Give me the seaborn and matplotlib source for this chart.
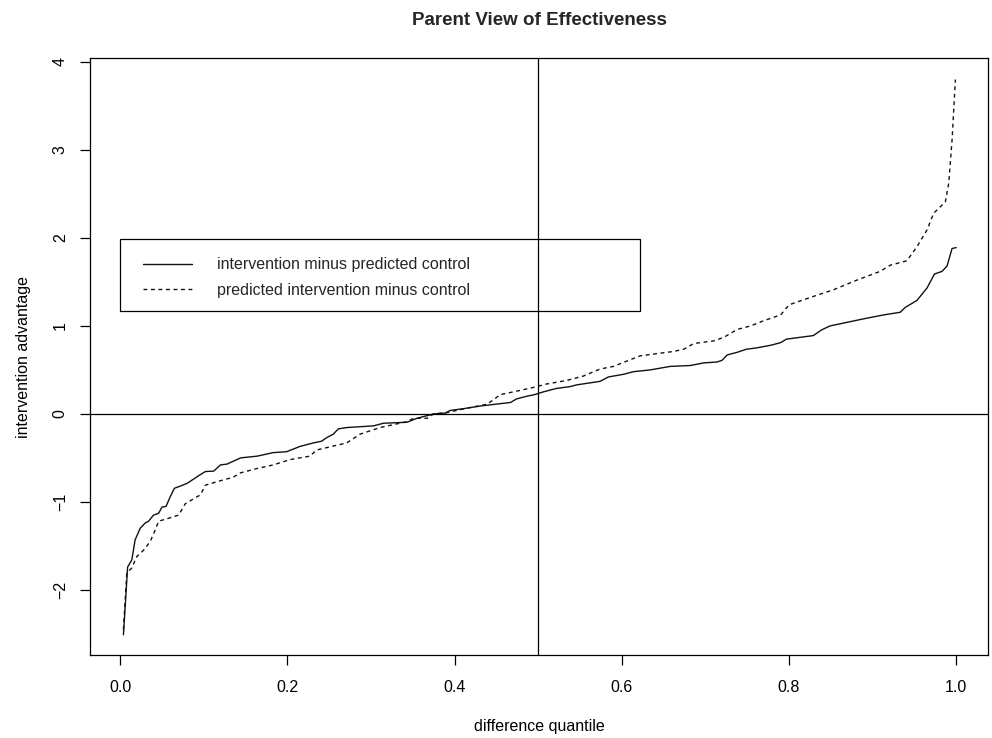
import numpy as np
import pandas as pd
import seaborn as sns
import matplotlib.pyplot as plt
from matplotlib.patches import Rectangle

# quantile curves
solid_q = [0.004, 0.009, 0.014, 0.018, 0.024, 0.030, 0.034, 0.040, 0.046, 0.050, 0.055, 0.060,
           0.065, 0.072, 0.080, 0.088, 0.096, 0.102, 0.112, 0.120, 0.128, 0.144, 0.164, 0.183,
           0.199, 0.215, 0.231, 0.241, 0.247, 0.255, 0.261, 0.271, 0.303, 0.315, 0.343, 0.355,
           0.367, 0.375, 0.389, 0.395, 0.411, 0.431, 0.467, 0.474, 0.486, 0.496, 0.506, 0.522,
           0.538, 0.546, 0.574, 0.584, 0.602, 0.614, 0.634, 0.658, 0.682, 0.698, 0.714, 0.720,
           0.726, 0.738, 0.749, 0.761, 0.778, 0.790, 0.797, 0.829, 0.839, 0.849, 0.869, 0.889,
           0.913, 0.933, 0.939, 0.953, 0.965, 0.974, 0.983, 0.989, 0.995, 1.0]
solid_v = [-2.51, -1.74, -1.66, -1.43, -1.30, -1.24, -1.22, -1.15, -1.13, -1.06, -1.05, -0.94,
           -0.845, -0.82, -0.79, -0.74, -0.69, -0.655, -0.65, -0.58, -0.57, -0.50, -0.48, -0.44,
           -0.43, -0.37, -0.33, -0.31, -0.27, -0.23, -0.17, -0.155, -0.136, -0.106, -0.095, -0.05,
           -0.02, 0.0, 0.01, 0.04, 0.06, 0.09, 0.13, 0.17, 0.20, 0.22, 0.25, 0.29,
           0.31, 0.33, 0.37, 0.42, 0.45, 0.48, 0.50, 0.54, 0.55, 0.58, 0.59, 0.61,
           0.67, 0.70, 0.735, 0.75, 0.78, 0.81, 0.85, 0.89, 0.955, 1.0, 1.04, 1.08,
           1.125, 1.155, 1.21, 1.29, 1.43, 1.59, 1.62, 1.68, 1.88, 1.89]

dash_q = [0.004, 0.008, 0.014, 0.020, 0.028, 0.036, 0.042, 0.046, 0.060, 0.070, 0.078, 0.096,
          0.102, 0.116, 0.135, 0.144, 0.164, 0.183, 0.203, 0.227, 0.235, 0.271, 0.287, 0.311,
          0.343, 0.351, 0.367, 0.375, 0.391, 0.415, 0.439, 0.455, 0.470, 0.494, 0.510, 0.534,
          0.554, 0.574, 0.590, 0.622, 0.662, 0.674, 0.686, 0.710, 0.722, 0.738, 0.754, 0.770,
          0.790, 0.800, 0.829, 0.853, 0.881, 0.909, 0.921, 0.941, 0.953, 0.965, 0.973, 0.987,
          0.991, 0.995, 0.999]
dash_v = [-2.45, -1.81, -1.75, -1.62, -1.55, -1.45, -1.32, -1.22, -1.18, -1.15, -1.02, -0.92,
          -0.81, -0.77, -0.72, -0.67, -0.62, -0.58, -0.52, -0.48, -0.41, -0.33, -0.23, -0.155,
          -0.088, -0.05, -0.05, 0.0, 0.015, 0.065, 0.11, 0.22, 0.25, 0.30, 0.34, 0.38,
          0.43, 0.51, 0.54, 0.66, 0.71, 0.735, 0.80, 0.83, 0.87, 0.96, 1.00, 1.06,
          1.125, 1.24, 1.335, 1.41, 1.52, 1.62, 1.69, 1.74, 1.90, 2.09, 2.28, 2.41,
          2.62, 3.11, 3.80]

series_labels = ['intervention minus predicted control', 'predicted intervention minus control']
x_ticks = [0.0, 0.2, 0.4, 0.6, 0.8, 1.0]
y_ticks = [-2, -1, 0, 1, 2, 3, 4]

df = pd.concat([
    pd.DataFrame({'quantile': solid_q, 'advantage': solid_v, 'series': series_labels[0]}),
    pd.DataFrame({'quantile': dash_q, 'advantage': dash_v, 'series': series_labels[1]}),
], ignore_index=True)

sns.set_theme(style='white')
plt.rcParams['font.family'] = ['Liberation Sans', 'DejaVu Sans']
plt.rcParams['axes.edgecolor'] = 'black'
plt.rcParams['axes.linewidth'] = 0.9

fig = plt.figure(figsize=(9.92, 7.38), dpi=100)
ax = fig.add_axes([90 / 992, 1 - 655 / 738, 898 / 992, 597 / 738])

sns.lineplot(data=df, x='quantile', y='advantage', style='series',
             dashes={series_labels[0]: '', series_labels[1]: (2.8, 2.6)},
             color='#111111', linewidth=1.0, estimator=None, legend=False, ax=ax)

ax.axhline(0, color='black', linewidth=0.9)
ax.axvline(0.5, color='black', linewidth=0.9)

ax.set_xlim(-0.036, 1.038)
ax.set_ylim(-2.74, 4.045)
ax.set_xticks(x_ticks)
ax.set_xticklabels([f'{t:.1f}' for t in x_ticks])
ax.set_yticks(y_ticks)
ax.set_yticklabels([f'{t}'.replace('-', '\u2212') for t in y_ticks])

ax.tick_params(axis='both', which='major', direction='out', length=7, width=0.9,
               color='black', labelsize=11.5, labelcolor='black', bottom=True, left=True)
ax.tick_params(axis='x', pad=11)
ax.tick_params(axis='y', pad=9, labelrotation=90)
for lab in ax.get_yticklabels():
    lab.set_va('center')

ax.set_xlabel('difference quantile', fontsize=11.5, color='black')
ax.set_ylabel('intervention advantage', fontsize=11.5, color='black')
ax.xaxis.set_label_coords(0.5, -0.108)
ax.yaxis.set_label_coords(-0.066, 0.5)
ax.set_title('Parent View of Effectiveness', fontsize=13.5, fontweight='bold', pad=24)

# legend box like R's legend(0, 2, ...)
ax.add_patch(Rectangle((0.0, 1.17), 0.622, 0.82, fill=False, edgecolor='black',
                       linewidth=0.9, zorder=3))
handles = ax.get_lines()[:2]
ax.legend(handles, series_labels, loc='center left', bbox_to_anchor=(0.0275, 1.551),
          bbox_transform=ax.transData, frameon=False, fontsize=11.5,
          handlelength=3.05, handletextpad=1.56, labelspacing=0.64,
          borderpad=0, borderaxespad=0)

fig.savefig('out.png', dpi=100)
